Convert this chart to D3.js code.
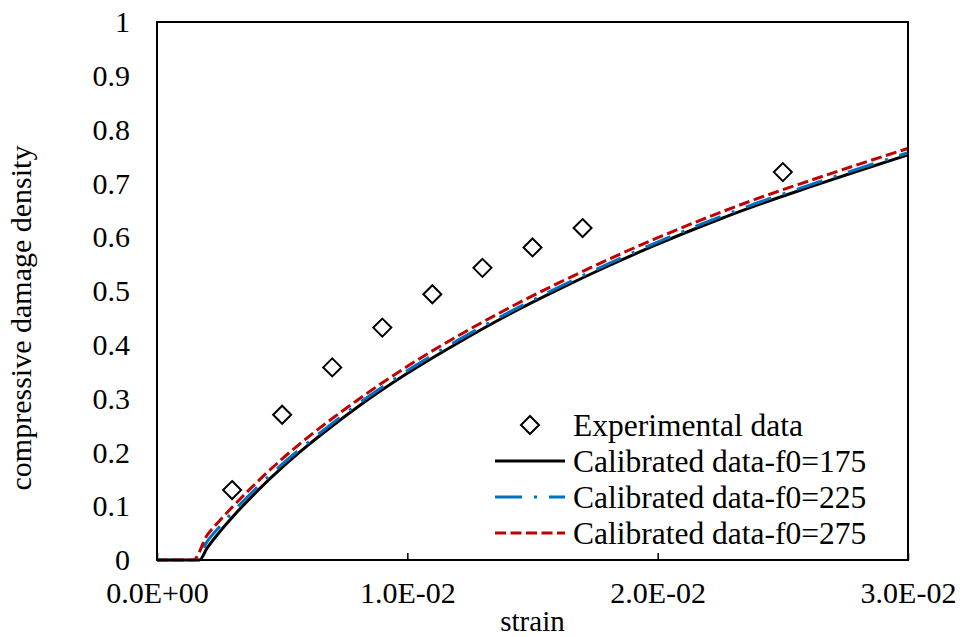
<!DOCTYPE html>
<html>
<head>
<meta charset="utf-8">
<script src="https://cdn.jsdelivr.net/npm/d3@7"></script>
<style>
  html, body { margin: 0; padding: 0; background: #fff; }
  svg { display: block; }
  svg text { font-family: "Liberation Serif", "Times New Roman", Times, Tinos, "DejaVu Serif", "Noto Serif", serif; fill: #000; }
</style>
</head>
<body>
<svg id="chart" width="965" height="637"></svg>
<script>
// Experimental measurements (strain, compressive damage density)
const expStrain = [0.003, 0.005, 0.007, 0.009, 0.011, 0.013, 0.015, 0.017, 0.025];
const expDamage = [0.130, 0.270, 0.358, 0.432, 0.494, 0.543, 0.581, 0.617, 0.721];

// Calibrated damage curves for three f0 values
const f175Strain = [0, 0.0017, 0.0020, 0.0025, 0.0030, 0.0040, 0.0050, 0.0060, 0.0070, 0.0080, 0.0100, 0.0120, 0.0140, 0.0160, 0.0180, 0.0200, 0.0220, 0.0240, 0.0260, 0.0280, 0.0300];
const f175Damage = [0, 0, 0.022, 0.052, 0.079, 0.128, 0.172, 0.212, 0.249, 0.284, 0.347, 0.403, 0.455, 0.502, 0.546, 0.587, 0.625, 0.660, 0.692, 0.723, 0.753];

const f225Strain = [0, 0.00158, 0.0020, 0.0025, 0.0030, 0.0040, 0.0050, 0.0060, 0.0070, 0.0080, 0.0100, 0.0120, 0.0140, 0.0160, 0.0180, 0.0200, 0.0220, 0.0240, 0.0260, 0.0280, 0.0300];
const f225Damage = [0, 0, 0.034, 0.062, 0.088, 0.135, 0.178, 0.217, 0.254, 0.289, 0.352, 0.408, 0.459, 0.506, 0.550, 0.591, 0.629, 0.664, 0.696, 0.727, 0.757];

const f275Strain = [0, 0.00145, 0.0020, 0.0025, 0.0030, 0.0040, 0.0050, 0.0060, 0.0070, 0.0080, 0.0100, 0.0120, 0.0140, 0.0160, 0.0180, 0.0200, 0.0220, 0.0240, 0.0260, 0.0280, 0.0300];
const f275Damage = [0, 0, 0.046, 0.073, 0.098, 0.145, 0.188, 0.227, 0.263, 0.297, 0.360, 0.416, 0.467, 0.514, 0.558, 0.599, 0.637, 0.672, 0.704, 0.735, 0.765];

// Axis ticks
const xTicks = [0, 0.01, 0.02, 0.03];
const xTickLabels = ["0.0E+00", "1.0E-02", "2.0E-02", "3.0E-02"];
const yTicks = [0, 0.1, 0.2, 0.3, 0.4, 0.5, 0.6, 0.7, 0.8, 0.9, 1];
const yTickLabels = ["0", "0.1", "0.2", "0.3", "0.4", "0.5", "0.6", "0.7", "0.8", "0.9", "1"];

const legendLabels = ["Experimental data", "Calibrated data-f0=175", "Calibrated data-f0=225", "Calibrated data-f0=275"];

const svg = d3.select("#chart");
const margin = { left: 157, top: 22, right: 57, bottom: 77 };
const W = 965, H = 637;

const x = d3.scaleLinear().domain([0, 0.03]).range([margin.left, W - margin.right]);
const y = d3.scaleLinear().domain([0, 1]).range([H - margin.bottom, margin.top]);

const tickFont = 30;
const legendFont = 31.5;
const serif = '"Liberation Serif", "Times New Roman", Times, Tinos, "DejaVu Serif", serif';

// Bottom axis: labels and small inside ticks
const xAxis = d3.axisBottom(x).tickValues(xTicks)
  .tickFormat((d, i) => xTickLabels[i]).tickSizeInner(-7).tickSizeOuter(0).tickPadding(22);
const gx = svg.append("g").attr("transform", `translate(0,${y(0)})`).call(xAxis)
  .attr("font-family", serif);
gx.select(".domain").remove();
gx.selectAll(".tick line").attr("stroke", "#000").attr("stroke-width", 1.5);
gx.selectAll(".tick text").attr("font-size", tickFont).attr("fill", "#000");

// Left axis: labels only
const yAxis = d3.axisLeft(y).tickValues(yTicks)
  .tickFormat((d, i) => yTickLabels[i]).tickSize(0).tickPadding(27);
const gy = svg.append("g").attr("transform", `translate(${x(0)},0)`).call(yAxis)
  .attr("font-family", serif);
gy.select(".domain").remove();
gy.selectAll(".tick text").attr("font-size", tickFont).attr("fill", "#000");

// Curves
const series = [
  { s: f175Strain, d: f175Damage, color: "#000000", width: 3, dash: null },
  { s: f225Strain, d: f225Damage, color: "#0070C0", width: 3, dash: "27,12,3,12" },
  { s: f275Strain, d: f275Damage, color: "#C00000", width: 3, dash: "11,4.5" }
];
const line = d3.line().x(p => x(p[0])).y(p => y(p[1])).curve(d3.curveMonotoneX);

series.forEach(sr => {
  svg.append("path")
    .datum(sr.s.map((v, i) => [v, sr.d[i]]))
    .attr("d", line)
    .attr("fill", "none")
    .attr("stroke", sr.color)
    .attr("stroke-width", sr.width)
    .attr("stroke-dasharray", sr.dash);
});

// Diamond markers
const half = 9;
const diamond = (cx, cy) => `M${cx},${cy - half}L${cx + half},${cy}L${cx},${cy + half}L${cx - half},${cy}Z`;
svg.append("g").selectAll("path")
  .data(expStrain.map((v, i) => [v, expDamage[i]]))
  .join("path")
  .attr("d", p => diamond(x(p[0]), y(p[1])))
  .attr("fill", "#fff")
  .attr("stroke", "#000")
  .attr("stroke-width", 2);

// Plot frame
svg.append("rect")
  .attr("x", x(0)).attr("y", y(1))
  .attr("width", x(0.03) - x(0)).attr("height", y(0) - y(1))
  .attr("fill", "none").attr("stroke", "#000").attr("stroke-width", 2);

// Axis titles
svg.append("text")
  .attr("x", (x(0) + x(0.03)) / 2).attr("y", 631)
  .attr("text-anchor", "middle").attr("font-size", 29).text("strain");
svg.append("text")
  .attr("transform", "translate(31,318) rotate(-90)")
  .attr("text-anchor", "middle").attr("font-size", 30).text("compressive damage density");

// Legend
const lg = svg.append("g");
const rowY = [425, 461, 497, 533];
const lx0 = 495, lx1 = 565, tx = 573;
lg.append("path").attr("d", diamond((lx0 + lx1) / 2, rowY[0]))
  .attr("fill", "#fff").attr("stroke", "#000").attr("stroke-width", 2);
series.forEach((sr, k) => {
  lg.append("line")
    .attr("x1", lx0).attr("x2", lx1).attr("y1", rowY[k + 1]).attr("y2", rowY[k + 1])
    .attr("stroke", sr.color).attr("stroke-width", sr.width)
    .attr("stroke-dasharray", sr.dash);
});
legendLabels.forEach((t, k) => {
  lg.append("text").attr("x", tx).attr("y", rowY[k]).attr("dy", "0.34em")
    .attr("font-size", legendFont).text(t);
});
</script>
</body>
</html>
